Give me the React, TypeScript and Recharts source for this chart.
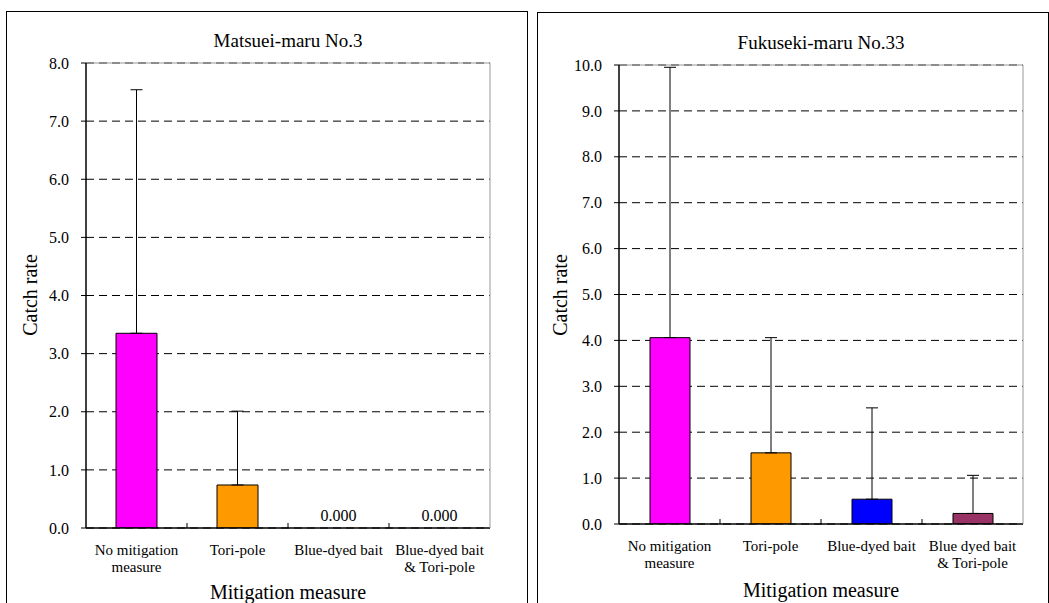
import React from "react";
import { Bar, CartesianGrid, Cell, ComposedChart, ErrorBar, Line, ReferenceLine, XAxis, YAxis } from "recharts";

const categoriesMatsuei = ["No mitigation\nmeasure", "Tori-pole", "Blue-dyed bait", "Blue-dyed bait\n& Tori-pole"];
const categoriesFukuseki = ["No mitigation\nmeasure", "Tori-pole", "Blue-dyed bait", "Blue dyed bait\n& Tori-pole"];

const matsueiRate = [3.35, 0.74, 0, 0];
const matsueiSd = [4.19, 1.27, 0, 0];

const fukusekiRate = [4.06, 1.55, 0.54, 0.23];
const fukusekiSd = [5.89, 2.51, 1.99, 0.83];

const barColors = ["#FF00FF", "#FF9900", "#0000FF", "#993366"];

const matsueiTicks = [0, 1, 2, 3, 4, 5, 6, 7, 8];
const fukusekiTicks = [0, 1, 2, 3, 4, 5, 6, 7, 8, 9, 10];

const FONT = "Liberation Serif, Tinos, Times New Roman, DejaVu Serif, serif";

function CategoryTick(props: any) {
  const { x, y, payload, index, visibleTicksCount } = props;
  const lines = String(payload.value).split("\n");
  const half = payload && typeof payload.offset === "number" ? payload.offset : 0;
  const last = index === (visibleTicksCount ?? 4) - 1;
  return (
    <g>
      {half > 0 && !last && <line x1={x + half} x2={x + half} y1={y - 5} y2={y} stroke="#000" />}
      <text x={x} y={y} textAnchor="middle" style={{ fontFamily: FONT, fontSize: 15 }} fill="#000">
        {lines.map((line, i) => (
          <tspan key={i} x={x} dy={i === 0 ? 27 : 17}>
            {line}
          </tspan>
        ))}
      </text>
    </g>
  );
}

function ZeroLabel(props: any) {
  const { x, y, value } = props;
  if (Number(value) !== 0) return null;
  return (
    <text x={x} y={y - 7} textAnchor="middle" style={{ fontFamily: FONT, fontSize: 16 }} fill="#000">
      {Number(value).toFixed(3)}
    </text>
  );
}

type PanelProps = {
  categories: string[];
  rates: number[];
  sds: number[];
  ticks: number[];
  width: number;
  height: number;
  margin: { top: number; right: number; bottom: number; left: number };
  xAxisHeight: number;
  barSize: number;
  showZeroLabels: boolean;
};

function CatchChart(p: PanelProps) {
  const data = p.categories.map((c, i) => ({ name: c, rate: p.rates[i], err: [0, p.sds[i]] }));
  const max = p.ticks[p.ticks.length - 1];
  return (
    <ComposedChart width={p.width} height={p.height} data={data} margin={p.margin} barSize={p.barSize}>
      <CartesianGrid vertical={false} stroke="#000" strokeDasharray="8 5" />
      <ReferenceLine y={max} stroke="#999" />
      <XAxis
        dataKey="name"
        height={p.xAxisHeight}
        tickLine={false}
        tickSize={0}
        tickMargin={0}
        axisLine={{ stroke: "#000", strokeWidth: 1.5 }}
        tick={<CategoryTick />}
        interval={0}
      />
      <YAxis
        width={60}
        domain={[0, max]}
        ticks={p.ticks}
        tickFormatter={(v: number) => v.toFixed(1)}
        tick={{ fill: "#000", style: { fontFamily: FONT, fontSize: 16 } }}
        tickSize={5}
        tickMargin={12}
        tickLine={{ stroke: "#000" }}
        axisLine={{ stroke: "#000", strokeWidth: 1.5 }}
        allowDataOverflow
      />
      <YAxis
        yAxisId="frame"
        orientation="right"
        width={1}
        domain={[0, max]}
        tick={false}
        tickLine={false}
        axisLine={{ stroke: "#999" }}
      />
      <Bar dataKey="rate" stroke="#000" strokeWidth={1} isAnimationActive={false}>
        {data.map((_, i) => (
          <Cell key={i} fill={barColors[i]} />
        ))}
        <ErrorBar dataKey="err" width={6} stroke="#000" strokeWidth={1} direction="y" />
      </Bar>
      {p.showZeroLabels && (
        <Line
          dataKey="rate"
          stroke="none"
          dot={false}
          activeDot={false}
          legendType="none"
          isAnimationActive={false}
          label={<ZeroLabel />}
        />
      )}
    </ComposedChart>
  );
}

const textBase: React.CSSProperties = {
  position: "absolute",
  fontFamily: FONT,
  color: "#000",
  whiteSpace: "nowrap",
  lineHeight: 1,
  transform: "translate(-50%, -50%)",
};

export default function App() {
  return (
    <div style={{ position: "absolute", left: 0, top: 0, width: 1049, height: 603, overflow: "hidden", background: "#fff", fontFamily: FONT }}>
      {/* left panel */}
      <div style={{ position: "absolute", left: 6, top: 11, width: 522, height: 600, border: "1px solid #000", boxSizing: "border-box" }}>
        <div style={{ position: "absolute", left: 0, top: 0 }}>
          <CatchChart
            categories={categoriesMatsuei}
            rates={matsueiRate}
            sds={matsueiSd}
            ticks={matsueiTicks}
            width={520}
            height={588}
            margin={{ top: 51, right: 36, bottom: 0, left: 19 }}
            xAxisHeight={72}
            barSize={41}
            showZeroLabels
          />
        </div>
      </div>
      <div style={{ ...textBase, left: 288, top: 40, fontSize: 19 }}>Matsuei-maru No.3</div>
      <div style={{ ...textBase, left: 288, top: 592, fontSize: 20 }}>Mitigation measure</div>
      <div style={{ ...textBase, left: 30, top: 295, fontSize: 20, transform: "translate(-50%, -50%) rotate(-90deg)" }}>Catch rate</div>

      {/* right panel */}
      <div style={{ position: "absolute", left: 537, top: 12, width: 512, height: 600, border: "1px solid #000", boxSizing: "border-box" }}>
        <div style={{ position: "absolute", left: 0, top: 0 }}>
          <CatchChart
            categories={categoriesFukuseki}
            rates={fukusekiRate}
            sds={fukusekiSd}
            ticks={fukusekiTicks}
            width={510}
            height={586}
            margin={{ top: 52, right: 24, bottom: 0, left: 21 }}
            xAxisHeight={75}
            barSize={40}
            showZeroLabels={false}
          />
        </div>
      </div>
      <div style={{ ...textBase, left: 821, top: 42, fontSize: 19 }}>Fukuseki-maru No.33</div>
      <div style={{ ...textBase, left: 821, top: 590, fontSize: 20 }}>Mitigation measure</div>
      <div style={{ ...textBase, left: 560, top: 295, fontSize: 20, transform: "translate(-50%, -50%) rotate(-90deg)" }}>Catch rate</div>
    </div>
  );
}
